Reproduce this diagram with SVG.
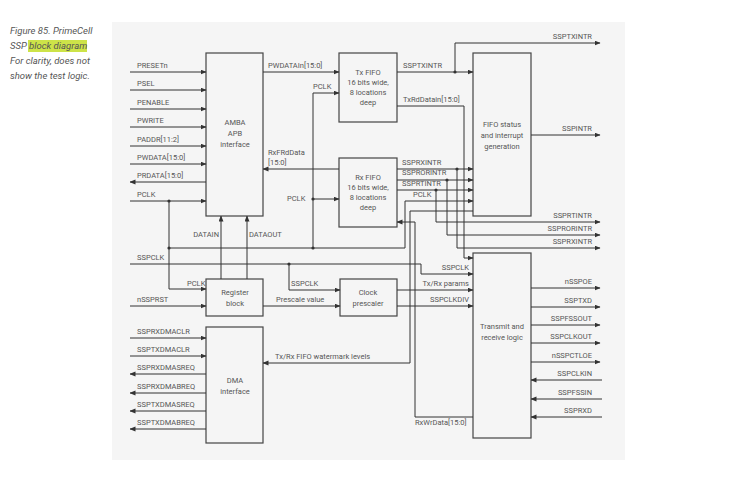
<svg xmlns="http://www.w3.org/2000/svg" width="732" height="480" viewBox="0 0 732 480">
<defs>
<marker id="ah" markerUnits="userSpaceOnUse" markerWidth="6" markerHeight="6" refX="5.5" refY="2.5" orient="auto"><path d="M0,0 L6,2.5 L0,5 z" fill="#333"/></marker>
</defs>
<style>
.box{fill:#f5f5f5;stroke:#444;stroke-width:1.2}
.w{fill:none;stroke:#333;stroke-width:1}
.a{marker-end:url(#ah)}
.t{font-family:Roboto,"Liberation Sans",sans-serif;font-size:7.5px;fill:#555}
.c{text-anchor:middle}
.e{text-anchor:end}
.cap{font-family:Roboto,"Liberation Sans",sans-serif;font-size:9.5px;font-style:italic;fill:#555}
.d{fill:#333}
</style>
<rect width="732" height="480" fill="#fff"/>
<rect x="112" y="22" width="513" height="438" fill="#f5f5f5"/>
<g id="caption">
<rect x="28" y="40" width="59" height="12" fill="#cde348"/>
<text class="cap" x="10" y="34">Figure 85. PrimeCell</text>
<text class="cap" x="10" y="49">SSP block diagram</text>
<text class="cap" x="10" y="64">For clarity, does not</text>
<text class="cap" x="10" y="79">show the test logic.</text>
</g>
<g id="amba"><rect class="box" x="206" y="53" width="57" height="163"/><text class="t c" x="235" y="125">AMBA</text><text class="t c" x="235" y="136">APB</text><text class="t c" x="235" y="147">interface</text></g>
<g id="txfifo"><rect class="box" x="339" y="53" width="58" height="69"/><text class="t c" x="368" y="75">Tx FIFO</text><text class="t c" x="368" y="85">16 bits wide,</text><text class="t c" x="368" y="95">8 locations</text><text class="t c" x="368" y="105">deep</text></g>
<g id="rxfifo"><rect class="box" x="339" y="158" width="58" height="69"/><text class="t c" x="368" y="180">Rx FIFO</text><text class="t c" x="368" y="190">16 bits wide,</text><text class="t c" x="368" y="200">8 locations</text><text class="t c" x="368" y="210">deep</text></g>
<g id="fifostatus"><rect class="box" x="473" y="53" width="58" height="163"/><text class="t c" x="502" y="127">FIFO status</text><text class="t c" x="502" y="138">and interrupt</text><text class="t c" x="502" y="149">generation</text></g>
<g id="register"><rect class="box" x="206" y="279" width="57" height="37"/><text class="t c" x="235" y="295">Register</text><text class="t c" x="235" y="306">block</text></g>
<g id="prescaler"><rect class="box" x="340" y="279" width="57" height="37"/><text class="t c" x="368" y="295">Clock</text><text class="t c" x="368" y="306">prescaler</text></g>
<g id="txrx"><rect class="box" x="473" y="253" width="58" height="185"/><text class="t c" x="502" y="329">Transmit and</text><text class="t c" x="502" y="340">receive logic</text></g>
<g id="dma"><rect class="box" x="206" y="327" width="57" height="116"/><text class="t c" x="235" y="383">DMA</text><text class="t c" x="235" y="394">interface</text></g>
<g id="connectors">
<path class="w a" d="M130,72 H206"/><path class="w a" d="M130,90 H206"/><path class="w a" d="M130,109 H206"/><path class="w a" d="M130,127 H206"/><path class="w a" d="M130,146 H206"/><path class="w a" d="M130,164 H206"/><path class="w a" d="M206,182 H130"/><path class="w a" d="M130,201 H206"/>
<path class="w a" d="M169,201 V289 H206"/>
<path class="w a" d="M169,248 H405 V201 H473"/>
<path class="w a" d="M313,248 V93 H339"/>
<path class="w a" d="M313,199 H339"/>
<path class="w a" d="M221,279 V216"/><path class="w a" d="M247,279 V216"/>
<path class="w a" d="M130,264 H421 V274 H473"/>
<path class="w a" d="M289,264 V290 H340"/>
<path class="w a" d="M130,306 H206"/>
<path class="w a" d="M263,306 H340"/>
<path class="w a" d="M397,290 H473"/>
<path class="w a" d="M397,306 H473"/>
<path class="w a" d="M263,72 H339"/>
<path class="w a" d="M339,169 H263"/>
<path class="w a" d="M397,72 H473"/>
<path class="w a" d="M455,72 V43 H600"/>
<path class="w a" d="M397,106 H464 V258 H473"/>
<path class="w a" d="M397,169 H473"/><path class="w a" d="M457,169 V248 H600"/>
<path class="w a" d="M397,180 H473"/><path class="w a" d="M447,180 V235 H600"/>
<path class="w a" d="M397,190 H473"/><path class="w a" d="M436,190 V222 H600"/>
<path class="w a" d="M531,135 H600"/>
<path class="w a" d="M473,211 H410 V363 H263"/>
<path class="w a" d="M473,417 H415 V222 H397"/>
<path class="w a" d="M531,288 H600"/><path class="w a" d="M531,307 H600"/><path class="w a" d="M531,325 H600"/><path class="w a" d="M531,343 H600"/><path class="w a" d="M531,362 H600"/>
<path class="w a" d="M602,380 H531"/><path class="w a" d="M602,399 H531"/><path class="w a" d="M602,417 H531"/>
<path class="w a" d="M130,338 H206"/><path class="w a" d="M130,356 H206"/><path class="w a" d="M206,374 H130"/><path class="w a" d="M206,393 H130"/><path class="w a" d="M206,411 H130"/><path class="w a" d="M206,429 H130"/>
<circle class="d" cx="169" cy="201" r="1.6"/><circle class="d" cx="169" cy="248" r="1.6"/><circle class="d" cx="313" cy="248" r="1.6"/><circle class="d" cx="313" cy="199" r="1.6"/><circle class="d" cx="289" cy="264" r="1.6"/><circle class="d" cx="455" cy="72" r="1.6"/><circle class="d" cx="457" cy="169" r="1.6"/><circle class="d" cx="447" cy="180" r="1.6"/><circle class="d" cx="436" cy="190" r="1.6"/>
</g>
<g id="labels">
<text class="t" x="137" y="68">PRESETn</text><text class="t" x="137" y="86">PSEL</text><text class="t" x="137" y="105">PENABLE</text><text class="t" x="137" y="123">PWRITE</text><text class="t" x="137" y="142">PADDR[11:2]</text><text class="t" x="137" y="160">PWDATA[15:0]</text><text class="t" x="137" y="178">PRDATA[15:0]</text><text class="t" x="137" y="197">PCLK</text>
<text class="t" x="187" y="286">PCLK</text>
<text class="t e" x="219" y="237">DATAIN</text><text class="t" x="249" y="237">DATAOUT</text>
<text class="t" x="137" y="260">SSPCLK</text><text class="t" x="137" y="302">nSSPRST</text>
<text class="t" x="291" y="286">SSPCLK</text><text class="t" x="276" y="302">Prescale value</text>
<text class="t" x="268" y="68">PWDATAIn[15:0]</text><text class="t" x="313" y="89">PCLK</text>
<text class="t" x="268" y="155">RxFRdData</text><text class="t" x="268" y="165">[15:0]</text>
<text class="t" x="287" y="201">PCLK</text>
<text class="t" x="403" y="68">SSPTXINTR</text><text class="t" x="403" y="102">TxRdDatain[15:0]</text>
<text class="t" x="402" y="165">SSPRXINTR</text><text class="t" x="402" y="175">SSPRORINTR</text><text class="t" x="402" y="186">SSPRTINTR</text><text class="t" x="413" y="197">PCLK</text>
<text class="t e" x="469" y="270">SSPCLK</text><text class="t e" x="469" y="286">Tx/Rx params</text><text class="t e" x="469" y="302">SSPCLKDIV</text>
<text class="t" x="275" y="359">Tx/Rx FIFO watermark levels</text>
<text class="t" x="415" y="425">RxWrData[15:0]</text>
<text class="t e" x="592" y="39">SSPTXINTR</text><text class="t e" x="592" y="131">SSPINTR</text>
<text class="t e" x="592" y="218">SSPRTINTR</text><text class="t e" x="592" y="231">SSPRORINTR</text><text class="t e" x="592" y="244">SSPRXINTR</text>
<text class="t e" x="592" y="284">nSSPOE</text><text class="t e" x="592" y="303">SSPTXD</text><text class="t e" x="592" y="321">SSPFSSOUT</text><text class="t e" x="592" y="339">SSPCLKOUT</text><text class="t e" x="592" y="358">nSSPCTLOE</text><text class="t e" x="592" y="376">SSPCLKIN</text><text class="t e" x="592" y="395">SSPFSSIN</text><text class="t e" x="592" y="413">SSPRXD</text>
<text class="t" x="137" y="334">SSPRXDMACLR</text><text class="t" x="137" y="352">SSPTXDMACLR</text><text class="t" x="137" y="370">SSPRXDMASREQ</text><text class="t" x="137" y="389">SSPRXDMABREQ</text><text class="t" x="137" y="407">SSPTXDMASREQ</text><text class="t" x="137" y="425">SSPTXDMABREQ</text>
</g>
</svg>
